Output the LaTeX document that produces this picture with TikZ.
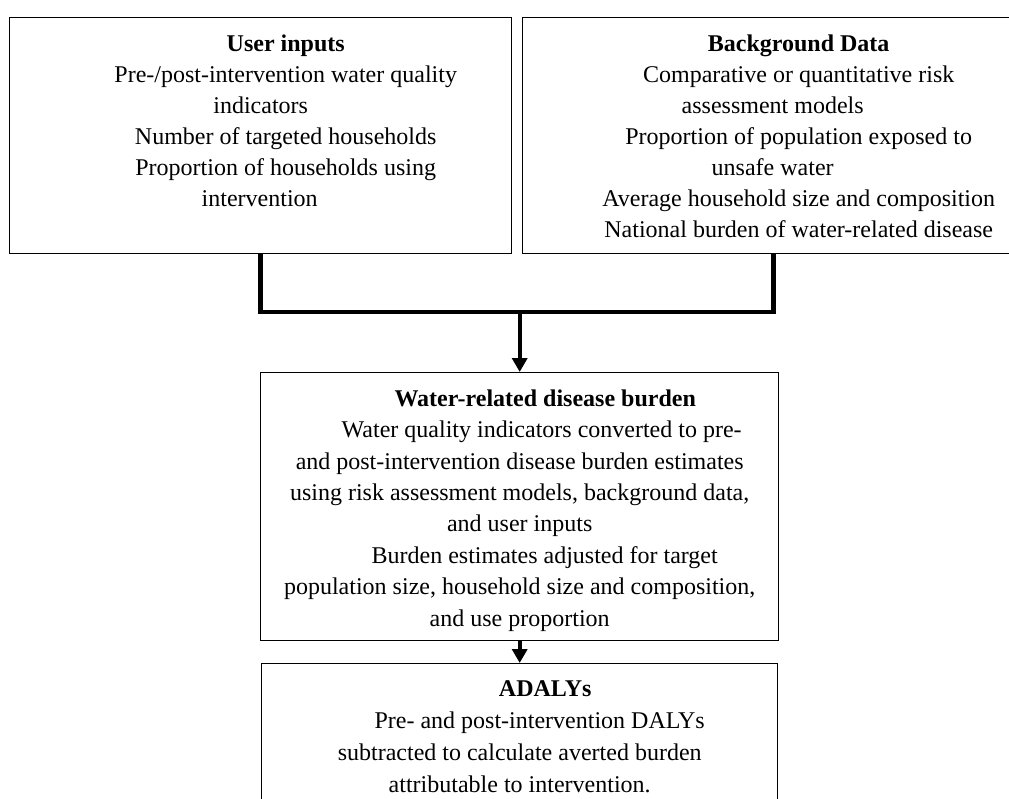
\documentclass[tikz,border=0pt]{standalone}
\usepackage{fontspec}
\setmainfont{Liberation Serif}
\usetikzlibrary{arrows.meta,positioning}

\begin{document}
\begin{tikzpicture}[x=1pt, y=-1pt,
	box/.style={draw, line width=1.4pt, inner sep=0pt, anchor=north west, minimum width=#1},
	txt/.style={align=center, inner sep=0pt, font=\fontsize{24}{31}\selectfont},
	merge/.style={line width=4.5pt},
	flow/.style={line width=4pt, -{Triangle[width=15pt,length=14pt]}}]
	%\draw[help lines] (0,0) grid[step=50] (1009,798);
	\useasboundingbox (0,0) rectangle (1009,798);
	\clip (0,0) rectangle (1009,798);

	\node [box=502pt, minimum height=236pt] (userbox) at (9,17) {};		% links oben
	\node [box=502pt, minimum height=236pt] (bgbox) at (522,17) {};		% rechts oben
	\node [box=518pt, minimum height=268pt] (burdenbox) at (260,372) {};	% Mitte
	\node [box=516pt, minimum height=160pt] (adalybox) at (261,663) {};	% unten, abgeschnitten

	\node [txt, below=17.5pt of userbox.north, xshift=25pt] (usertext) {\textbf{User inputs}\\
		Pre-/post-intervention water quality\\
		indicators\hspace*{50pt}\null\\
		Number of targeted households\\
		Proportion of households using\\
		intervention\hspace*{52pt}\null};
	\node [txt, below=17.5pt of bgbox.north, xshift=25pt] (bgtext) {\textbf{Background Data}\\
		Comparative or quantitative risk\\
		assessment models\hspace*{52pt}\null\\
		Proportion of population exposed to\\
		unsafe water\hspace*{52pt}\null\\
		Average household size and composition\\
		National burden of water-related disease};
	\node [txt, font=\fontsize{24}{31.4}\selectfont, below=17.5pt of burdenbox.north] (burdentext) {\null\hspace*{51pt}\textbf{Water-related disease burden}\\
		\null\hspace*{44pt}Water quality indicators converted to pre-\\
		and post-intervention disease burden estimates\\
		using risk assessment models, background data,\\
		and user inputs\\
		\null\hspace*{50pt}Burden estimates adjusted for target\\
		population size, household size and composition,\\
		and use proportion};
	\node [txt, font=\fontsize{24}{32}\selectfont, below=17.5pt of adalybox.north] (adalytext) {\null\hspace*{51pt}\textbf{ADALYs}\\
		\null\hspace*{40pt}Pre- and post-intervention DALYs\\
		subtracted to calculate averted burden\\
		attributable to intervention.};

	\coordinate (joint) at (burdenbox.north |- 0,312);			% Knick der Verbindung
	\draw [merge] (userbox.south) |- (joint) -| (bgbox.south);
	\draw [flow] (joint) -- (burdenbox.north);
	\draw [flow] (burdenbox.south) -- (adalybox.north);

\end{tikzpicture}
\end{document}
